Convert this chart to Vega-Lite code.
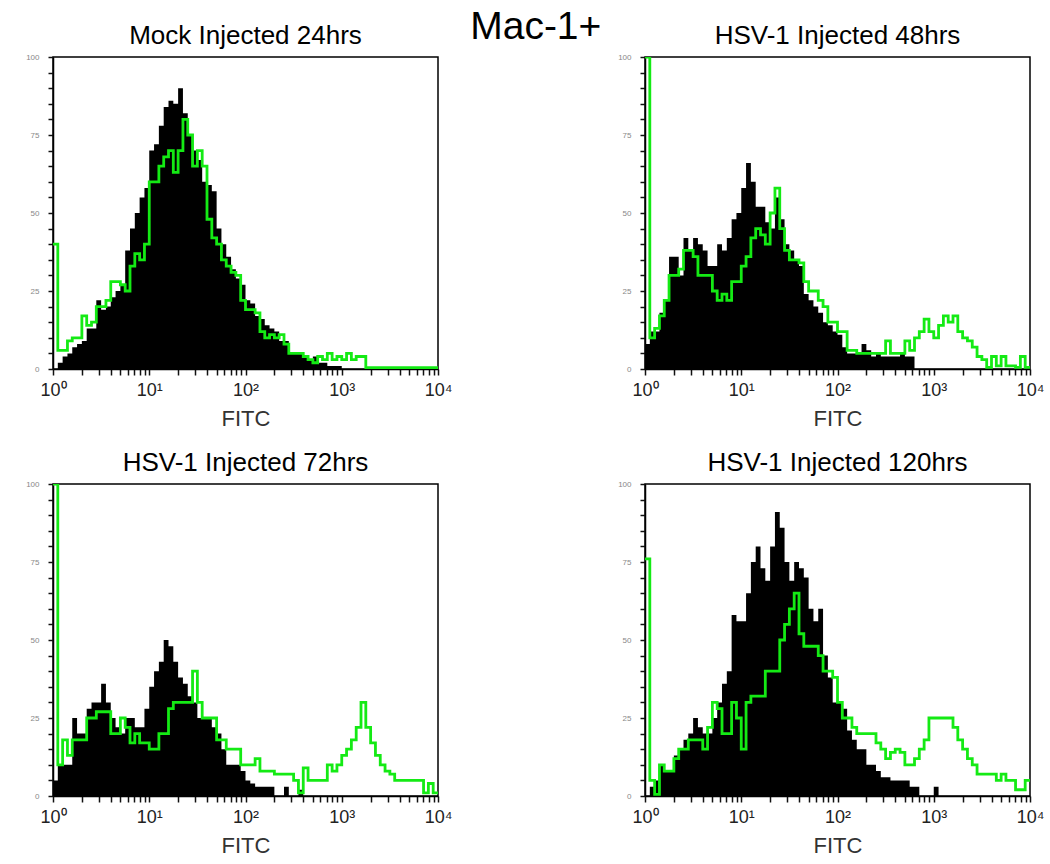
{
"$schema": "https://vega.github.io/schema/vega-lite/v6.json",
"autosize": {"type": "pad"},
"padding": {"left": 24, "top": 8, "right": 10, "bottom": 10},
"background": "white",
"title": {"text": "Mac-1+", "fontSize": 39, "fontWeight": "normal", "offset": -17, "dy": 39, "dx": 1, "anchor": "middle", "frame": "bounds", "baseline": "alphabetic", "color": "black"},
"config": {
 "font": "Liberation Sans",
 "view": {"stroke": "black", "strokeWidth": 1.5},
 "title": {"fontSize": 26, "fontWeight": "normal", "color": "black"},
 "axis": {"ticks": true, "tickColor": "#111111", "tickWidth": 1.5, "domainColor": "#000000", "domainWidth": 1.5, "grid": false, "labelOverlap": false, "labelBound": false, "labelFlush": false},
 "axisX": {"tickSize": 6, "titleFontSize": 22, "titleFontWeight": "normal", "titleColor": "#333333", "titlePadding": 9, "labelFontSize": 18, "labelColor": "#222222", "labelPadding": 6},
 "axisY": {"tickSize": 5, "labelFontSize": 8, "labelColor": "#888888", "labelPadding": 9}
},
"datasets": {
 "pcts": [
  {"p": "A", "pct": "0.71%"},
  {"p": "B", "pct": "11.12%"},
  {"p": "C", "pct": "18.70%"},
  {"p": "D", "pct": "16.46%"}
 ],
 "hist": [
{"p":"A","x":1,"b":0,"g":40},{"p":"A","x":1.122,"b":2,"g":6},{"p":"A","x":1.259,"b":4,"g":6},{"p":"A","x":1.413,"b":5,"g":9},{"p":"A","x":1.585,"b":7,"g":10},{"p":"A","x":1.778,"b":8,"g":10},{"p":"A","x":1.995,"b":9,"g":17},{"p":"A","x":2.239,"b":13,"g":14},{"p":"A","x":2.512,"b":13,"g":15},{"p":"A","x":2.818,"b":22,"g":20},
{"p":"A","x":3.162,"b":19,"g":20},{"p":"A","x":3.548,"b":20,"g":22},{"p":"A","x":3.981,"b":23,"g":28},{"p":"A","x":4.467,"b":25,"g":28},{"p":"A","x":5.012,"b":27,"g":27},{"p":"A","x":5.623,"b":38,"g":25},{"p":"A","x":6.31,"b":45,"g":33},{"p":"A","x":7.079,"b":50,"g":37},{"p":"A","x":7.943,"b":55,"g":35},{"p":"A","x":8.913,"b":58,"g":40},
{"p":"A","x":10,"b":70,"g":60},{"p":"A","x":11.22,"b":72,"g":60},{"p":"A","x":12.59,"b":78,"g":65},{"p":"A","x":14.13,"b":84,"g":68},{"p":"A","x":15.85,"b":86,"g":70},{"p":"A","x":17.78,"b":85,"g":63},{"p":"A","x":19.95,"b":90,"g":70},{"p":"A","x":22.39,"b":82,"g":80},{"p":"A","x":25.12,"b":75,"g":75},{"p":"A","x":28.18,"b":70,"g":65},
{"p":"A","x":31.62,"b":67,"g":70},{"p":"A","x":35.48,"b":60,"g":65},{"p":"A","x":39.81,"b":59,"g":48},{"p":"A","x":44.67,"b":57,"g":42},{"p":"A","x":50.12,"b":45,"g":40},{"p":"A","x":56.23,"b":40,"g":35},{"p":"A","x":63.1,"b":36,"g":33},{"p":"A","x":70.79,"b":32,"g":31},{"p":"A","x":79.43,"b":29,"g":30},{"p":"A","x":89.13,"b":27,"g":22},
{"p":"A","x":100,"b":22,"g":19},{"p":"A","x":112.2,"b":21,"g":19},{"p":"A","x":125.9,"b":17,"g":18},{"p":"A","x":141.3,"b":16,"g":12},{"p":"A","x":158.5,"b":14,"g":10},{"p":"A","x":177.8,"b":13,"g":11},{"p":"A","x":199.5,"b":12,"g":10},{"p":"A","x":223.9,"b":9,"g":11},{"p":"A","x":251.2,"b":9,"g":8},{"p":"A","x":281.8,"b":5,"g":5},
{"p":"A","x":316.2,"b":5,"g":5},{"p":"A","x":354.8,"b":5,"g":5},{"p":"A","x":398.1,"b":4,"g":4},{"p":"A","x":446.7,"b":3,"g":3},{"p":"A","x":501.2,"b":4,"g":2},{"p":"A","x":562.3,"b":2,"g":4},{"p":"A","x":631,"b":2,"g":3},{"p":"A","x":707.9,"b":1,"g":5},{"p":"A","x":794.3,"b":1,"g":3},{"p":"A","x":891.3,"b":1,"g":4},
{"p":"A","x":1000,"b":0,"g":3},{"p":"A","x":1122,"b":0,"g":5},{"p":"A","x":1259,"b":0,"g":3},{"p":"A","x":1413,"b":0,"g":4},{"p":"A","x":1585,"b":0,"g":4},{"p":"A","x":1778,"b":0,"g":0.4},{"p":"A","x":1995,"b":0,"g":0.4},{"p":"A","x":2239,"b":0,"g":0.4},{"p":"A","x":2512,"b":0,"g":0.4},{"p":"A","x":2818,"b":0,"g":0.4},
{"p":"A","x":3162,"b":0,"g":0.4},{"p":"A","x":3548,"b":0,"g":0.4},{"p":"A","x":3981,"b":0,"g":0.4},{"p":"A","x":4467,"b":0,"g":0.4},{"p":"A","x":5012,"b":0,"g":0.4},{"p":"A","x":5623,"b":0,"g":0.4},{"p":"A","x":6310,"b":0,"g":0.4},{"p":"A","x":7079,"b":0,"g":0.4},{"p":"A","x":7943,"b":0,"g":0.4},{"p":"A","x":8913,"b":0,"g":0.4},{"p":"A","x":10000,"b":0,"g":0.4},

{"p":"B","x":1,"b":8,"g":100},{"p":"B","x":1.122,"b":12,"g":10},{"p":"B","x":1.259,"b":12,"g":13},{"p":"B","x":1.413,"b":18,"g":17},{"p":"B","x":1.585,"b":22,"g":22},{"p":"B","x":1.778,"b":36,"g":30},{"p":"B","x":1.995,"b":36,"g":30},{"p":"B","x":2.239,"b":30,"g":32},{"p":"B","x":2.512,"b":42,"g":38},{"p":"B","x":2.818,"b":38,"g":38},
{"p":"B","x":3.162,"b":42,"g":36},{"p":"B","x":3.548,"b":40,"g":30},{"p":"B","x":3.981,"b":38,"g":30},{"p":"B","x":4.467,"b":33,"g":30},{"p":"B","x":5.012,"b":33,"g":25},{"p":"B","x":5.623,"b":40,"g":22},{"p":"B","x":6.31,"b":38,"g":24},{"p":"B","x":7.079,"b":42,"g":22},{"p":"B","x":7.943,"b":48,"g":28},{"p":"B","x":8.913,"b":50,"g":28},
{"p":"B","x":10,"b":58,"g":33},{"p":"B","x":11.22,"b":66,"g":36},{"p":"B","x":12.59,"b":60,"g":42},{"p":"B","x":14.13,"b":52,"g":45},{"p":"B","x":15.85,"b":52,"g":43},{"p":"B","x":17.78,"b":47,"g":40},{"p":"B","x":19.95,"b":45,"g":50},{"p":"B","x":22.39,"b":55,"g":58},{"p":"B","x":25.12,"b":48,"g":45},{"p":"B","x":28.18,"b":40,"g":38},
{"p":"B","x":31.62,"b":38,"g":35},{"p":"B","x":35.48,"b":35,"g":35},{"p":"B","x":39.81,"b":33,"g":34},{"p":"B","x":44.67,"b":24,"g":28},{"p":"B","x":50.12,"b":22,"g":25},{"p":"B","x":56.23,"b":20,"g":25},{"p":"B","x":63.1,"b":18,"g":22},{"p":"B","x":70.79,"b":15,"g":20},{"p":"B","x":79.43,"b":14,"g":15},{"p":"B","x":89.13,"b":12,"g":15},
{"p":"B","x":100,"b":11,"g":12},{"p":"B","x":112.2,"b":7,"g":12},{"p":"B","x":125.9,"b":5,"g":6},{"p":"B","x":141.3,"b":5,"g":6},{"p":"B","x":158.5,"b":5,"g":5},{"p":"B","x":177.8,"b":8,"g":5},{"p":"B","x":199.5,"b":6,"g":5},{"p":"B","x":223.9,"b":4,"g":5},{"p":"B","x":251.2,"b":5,"g":5},{"p":"B","x":281.8,"b":4,"g":5},
{"p":"B","x":316.2,"b":4,"g":9},{"p":"B","x":354.8,"b":4,"g":5},{"p":"B","x":398.1,"b":4,"g":5},{"p":"B","x":446.7,"b":5,"g":5},{"p":"B","x":501.2,"b":4,"g":9},{"p":"B","x":562.3,"b":4,"g":6},{"p":"B","x":631,"b":0,"g":10},{"p":"B","x":707.9,"b":0,"g":12},{"p":"B","x":794.3,"b":0,"g":16},{"p":"B","x":891.3,"b":0,"g":12},
{"p":"B","x":1000,"b":0,"g":10},{"p":"B","x":1122,"b":0,"g":14},{"p":"B","x":1259,"b":0,"g":17},{"p":"B","x":1413,"b":0,"g":15},{"p":"B","x":1585,"b":0,"g":17},{"p":"B","x":1778,"b":0,"g":12},{"p":"B","x":1995,"b":0,"g":10},{"p":"B","x":2239,"b":0,"g":9},{"p":"B","x":2512,"b":0,"g":7},{"p":"B","x":2818,"b":0,"g":4},
{"p":"B","x":3162,"b":0,"g":3},{"p":"B","x":3548,"b":0,"g":0.5},{"p":"B","x":3981,"b":0,"g":4},{"p":"B","x":4467,"b":0,"g":1},{"p":"B","x":5012,"b":0,"g":4},{"p":"B","x":5623,"b":0,"g":1},{"p":"B","x":6310,"b":0,"g":1},{"p":"B","x":7079,"b":0,"g":0.5},{"p":"B","x":7943,"b":0,"g":4},{"p":"B","x":8913,"b":0,"g":0.5},{"p":"B","x":10000,"b":0,"g":0.5},

{"p":"C","x":1,"b":5,"g":100},{"p":"C","x":1.122,"b":10,"g":10},{"p":"C","x":1.259,"b":10,"g":18},{"p":"C","x":1.413,"b":10,"g":13},{"p":"C","x":1.585,"b":25,"g":18},{"p":"C","x":1.778,"b":20,"g":18},{"p":"C","x":1.995,"b":20,"g":18},{"p":"C","x":2.239,"b":28,"g":25},{"p":"C","x":2.512,"b":30,"g":25},{"p":"C","x":2.818,"b":30,"g":27},
{"p":"C","x":3.162,"b":36,"g":27},{"p":"C","x":3.548,"b":30,"g":27},{"p":"C","x":3.981,"b":25,"g":20},{"p":"C","x":4.467,"b":22,"g":20},{"p":"C","x":5.012,"b":20,"g":25},{"p":"C","x":5.623,"b":25,"g":22},{"p":"C","x":6.31,"b":25,"g":17},{"p":"C","x":7.079,"b":22,"g":20},{"p":"C","x":7.943,"b":22,"g":17},{"p":"C","x":8.913,"b":28,"g":17},
{"p":"C","x":10,"b":35,"g":15},{"p":"C","x":11.22,"b":40,"g":15},{"p":"C","x":12.59,"b":43,"g":20},{"p":"C","x":14.13,"b":50,"g":20},{"p":"C","x":15.85,"b":48,"g":28},{"p":"C","x":17.78,"b":43,"g":30},{"p":"C","x":19.95,"b":38,"g":30},{"p":"C","x":22.39,"b":36,"g":30},{"p":"C","x":25.12,"b":32,"g":30},{"p":"C","x":28.18,"b":30,"g":40},
{"p":"C","x":31.62,"b":25,"g":30},{"p":"C","x":35.48,"b":25,"g":25},{"p":"C","x":39.81,"b":25,"g":25},{"p":"C","x":44.67,"b":22,"g":25},{"p":"C","x":50.12,"b":20,"g":18},{"p":"C","x":56.23,"b":15,"g":18},{"p":"C","x":63.1,"b":10,"g":15},{"p":"C","x":70.79,"b":10,"g":15},{"p":"C","x":79.43,"b":10,"g":15},{"p":"C","x":89.13,"b":8,"g":10},
{"p":"C","x":100,"b":5,"g":10},{"p":"C","x":112.2,"b":4,"g":10},{"p":"C","x":125.9,"b":3,"g":12},{"p":"C","x":141.3,"b":3,"g":8},{"p":"C","x":158.5,"b":3,"g":8},{"p":"C","x":177.8,"b":3,"g":8},{"p":"C","x":199.5,"b":0,"g":7},{"p":"C","x":223.9,"b":0,"g":7},{"p":"C","x":251.2,"b":3,"g":7},{"p":"C","x":281.8,"b":0,"g":7},
{"p":"C","x":316.2,"b":0,"g":5},{"p":"C","x":354.8,"b":2,"g":1},{"p":"C","x":398.1,"b":0,"g":9},{"p":"C","x":446.7,"b":0,"g":5},{"p":"C","x":501.2,"b":0,"g":5},{"p":"C","x":562.3,"b":0,"g":5},{"p":"C","x":631,"b":0,"g":5},{"p":"C","x":707.9,"b":0,"g":10},{"p":"C","x":794.3,"b":0,"g":8},{"p":"C","x":891.3,"b":0,"g":10},
{"p":"C","x":1000,"b":0,"g":13},{"p":"C","x":1122,"b":0,"g":15},{"p":"C","x":1259,"b":0,"g":18},{"p":"C","x":1413,"b":0,"g":22},{"p":"C","x":1585,"b":0,"g":30},{"p":"C","x":1778,"b":0,"g":22},{"p":"C","x":1995,"b":0,"g":17},{"p":"C","x":2239,"b":0,"g":13},{"p":"C","x":2512,"b":0,"g":10},{"p":"C","x":2818,"b":0,"g":8},
{"p":"C","x":3162,"b":0,"g":7},{"p":"C","x":3548,"b":0,"g":5},{"p":"C","x":3981,"b":0,"g":5},{"p":"C","x":4467,"b":0,"g":5},{"p":"C","x":5012,"b":0,"g":5},{"p":"C","x":5623,"b":0,"g":5},{"p":"C","x":6310,"b":0,"g":5},{"p":"C","x":7079,"b":0,"g":1},{"p":"C","x":7943,"b":0,"g":4},{"p":"C","x":8913,"b":0,"g":1},{"p":"C","x":10000,"b":0,"g":1},

{"p":"D","x":1,"b":0,"g":76},{"p":"D","x":1.122,"b":3,"g":5},{"p":"D","x":1.259,"b":5,"g":0.5},{"p":"D","x":1.413,"b":10,"g":10},{"p":"D","x":1.585,"b":8,"g":8},{"p":"D","x":1.778,"b":8,"g":8},{"p":"D","x":1.995,"b":13,"g":12},{"p":"D","x":2.239,"b":15,"g":15},{"p":"D","x":2.512,"b":18,"g":15},{"p":"D","x":2.818,"b":20,"g":18},
{"p":"D","x":3.162,"b":25,"g":18},{"p":"D","x":3.548,"b":22,"g":18},{"p":"D","x":3.981,"b":20,"g":15},{"p":"D","x":4.467,"b":20,"g":22},{"p":"D","x":5.012,"b":25,"g":30},{"p":"D","x":5.623,"b":30,"g":28},{"p":"D","x":6.31,"b":36,"g":20},{"p":"D","x":7.079,"b":40,"g":20},{"p":"D","x":7.943,"b":58,"g":30},{"p":"D","x":8.913,"b":56,"g":25},
{"p":"D","x":10,"b":56,"g":15},{"p":"D","x":11.22,"b":65,"g":30},{"p":"D","x":12.59,"b":75,"g":32},{"p":"D","x":14.13,"b":80,"g":32},{"p":"D","x":15.85,"b":73,"g":32},{"p":"D","x":17.78,"b":69,"g":40},{"p":"D","x":19.95,"b":80,"g":40},{"p":"D","x":22.39,"b":91,"g":40},{"p":"D","x":25.12,"b":86,"g":50},{"p":"D","x":28.18,"b":75,"g":55},
{"p":"D","x":31.62,"b":69,"g":60},{"p":"D","x":35.48,"b":75,"g":65},{"p":"D","x":39.81,"b":73,"g":52},{"p":"D","x":44.67,"b":70,"g":48},{"p":"D","x":50.12,"b":60,"g":48},{"p":"D","x":56.23,"b":56,"g":48},{"p":"D","x":63.1,"b":60,"g":45},{"p":"D","x":70.79,"b":45,"g":40},{"p":"D","x":79.43,"b":38,"g":40},{"p":"D","x":89.13,"b":30,"g":38},
{"p":"D","x":100,"b":30,"g":30},{"p":"D","x":112.2,"b":28,"g":25},{"p":"D","x":125.9,"b":21,"g":25},{"p":"D","x":141.3,"b":18,"g":22},{"p":"D","x":158.5,"b":15,"g":20},{"p":"D","x":177.8,"b":15,"g":20},{"p":"D","x":199.5,"b":10,"g":20},{"p":"D","x":223.9,"b":10,"g":20},{"p":"D","x":251.2,"b":8,"g":17},{"p":"D","x":281.8,"b":6,"g":15},
{"p":"D","x":316.2,"b":6,"g":12},{"p":"D","x":354.8,"b":5,"g":14},{"p":"D","x":398.1,"b":5,"g":15},{"p":"D","x":446.7,"b":5,"g":14},{"p":"D","x":501.2,"b":5,"g":10},{"p":"D","x":562.3,"b":3,"g":10},{"p":"D","x":631,"b":3,"g":12},{"p":"D","x":707.9,"b":0,"g":15},{"p":"D","x":794.3,"b":0,"g":18},{"p":"D","x":891.3,"b":0,"g":25},
{"p":"D","x":1000,"b":3,"g":25},{"p":"D","x":1122,"b":0,"g":25},{"p":"D","x":1259,"b":0,"g":25},{"p":"D","x":1413,"b":0,"g":25},{"p":"D","x":1585,"b":0,"g":22},{"p":"D","x":1778,"b":0,"g":18},{"p":"D","x":1995,"b":0,"g":15},{"p":"D","x":2239,"b":0,"g":12},{"p":"D","x":2512,"b":0,"g":10},{"p":"D","x":2818,"b":0,"g":7},
{"p":"D","x":3162,"b":0,"g":7},{"p":"D","x":3548,"b":0,"g":7},{"p":"D","x":3981,"b":0,"g":7},{"p":"D","x":4467,"b":0,"g":5},{"p":"D","x":5012,"b":0,"g":7},{"p":"D","x":5623,"b":0,"g":5},{"p":"D","x":6310,"b":0,"g":5},{"p":"D","x":7079,"b":0,"g":2},{"p":"D","x":7943,"b":0,"g":2},{"p":"D","x":8913,"b":0,"g":5},{"p":"D","x":10000,"b":0,"g":5}
 ]
},
"columns": 2,
"spacing": {"row": 115, "column": 207},
"bounds": "flush",
"concat": [
  {"title": {"text": "Mock Injected 24hrs", "offset": 9, "dy": 26, "baseline": "alphabetic"}, "width": 385, "height": 312,
   "encoding": {
     "x": {"field": "x", "type": "quantitative", "scale": {"type": "log", "domain": [1, 10000]}, "title": "FITC", "axis": {"values": [1,2,3,4,5,6,7,8,9,10,20,30,40,50,60,70,80,90,100,200,300,400,500,600,700,800,900,1000,2000,3000,4000,5000,6000,7000,8000,9000,10000], "labelExpr": "datum.value == 1 ? '10⁰' : datum.value == 10 ? '10¹' : datum.value == 100 ? '10²' : datum.value == 1000 ? '10³' : datum.value == 10000 ? '10⁴' : ''"}},
     "y": {"type": "quantitative", "scale": {"domain": [0, 100]}, "title": null, "axis": {"values": [0,5,10,15,20,25,30,35,40,45,50,55,60,65,70,75,80,85,90,95,100], "labelExpr": "datum.value % 25 == 0 ? datum.label : ''"}}
   },
   "layer": [
   {"data": {"name": "hist"}, "transform": [{"filter": "datum.p == 'A'"}], "mark": {"type": "area", "interpolate": "step-after", "color": "black", "clip": true}, "encoding": {"y": {"field": "b"}}},
   {"data": {"name": "hist"}, "transform": [{"filter": "datum.p == 'A'"}], "mark": {"type": "line", "interpolate": "step-after", "color": "#14ea14", "strokeWidth": 2.8, "clip": true}, "encoding": {"y": {"field": "g"}}},
   {"data": {"name": "pcts"}, "transform": [{"filter": "datum.p == 'A'"}], "mark": {"type": "text", "align": "right", "baseline": "alphabetic", "fontSize": 28, "color": "black"},
    "encoding": {"x": {"datum": 5129, "type": "quantitative"}, "y": {"datum": 84.5, "type": "quantitative"}, "text": {"field": "pct"}}}
  ]},
  {"title": {"text": "HSV-1 Injected 48hrs", "offset": 9, "dy": 26, "baseline": "alphabetic"}, "width": 385, "height": 312,
   "encoding": {
     "x": {"field": "x", "type": "quantitative", "scale": {"type": "log", "domain": [1, 10000]}, "title": "FITC", "axis": {"values": [1,2,3,4,5,6,7,8,9,10,20,30,40,50,60,70,80,90,100,200,300,400,500,600,700,800,900,1000,2000,3000,4000,5000,6000,7000,8000,9000,10000], "labelExpr": "datum.value == 1 ? '10⁰' : datum.value == 10 ? '10¹' : datum.value == 100 ? '10²' : datum.value == 1000 ? '10³' : datum.value == 10000 ? '10⁴' : ''"}},
     "y": {"type": "quantitative", "scale": {"domain": [0, 100]}, "title": null, "axis": {"values": [0,5,10,15,20,25,30,35,40,45,50,55,60,65,70,75,80,85,90,95,100], "labelExpr": "datum.value % 25 == 0 ? datum.label : ''"}}
   },
   "layer": [
   {"data": {"name": "hist"}, "transform": [{"filter": "datum.p == 'B'"}], "mark": {"type": "area", "interpolate": "step-after", "color": "black", "clip": true}, "encoding": {"y": {"field": "b"}}},
   {"data": {"name": "hist"}, "transform": [{"filter": "datum.p == 'B'"}], "mark": {"type": "line", "interpolate": "step-after", "color": "#14ea14", "strokeWidth": 2.8, "clip": true}, "encoding": {"y": {"field": "g"}}},
   {"data": {"name": "pcts"}, "transform": [{"filter": "datum.p == 'B'"}], "mark": {"type": "text", "align": "right", "baseline": "alphabetic", "fontSize": 28, "color": "black"},
    "encoding": {"x": {"datum": 5248, "type": "quantitative"}, "y": {"datum": 85, "type": "quantitative"}, "text": {"field": "pct"}}}
  ]},
  {"title": {"text": "HSV-1 Injected 72hrs", "offset": 9, "dy": 26, "baseline": "alphabetic"}, "width": 385, "height": 312,
   "encoding": {
     "x": {"field": "x", "type": "quantitative", "scale": {"type": "log", "domain": [1, 10000]}, "title": "FITC", "axis": {"values": [1,2,3,4,5,6,7,8,9,10,20,30,40,50,60,70,80,90,100,200,300,400,500,600,700,800,900,1000,2000,3000,4000,5000,6000,7000,8000,9000,10000], "labelExpr": "datum.value == 1 ? '10⁰' : datum.value == 10 ? '10¹' : datum.value == 100 ? '10²' : datum.value == 1000 ? '10³' : datum.value == 10000 ? '10⁴' : ''"}},
     "y": {"type": "quantitative", "scale": {"domain": [0, 100]}, "title": null, "axis": {"values": [0,5,10,15,20,25,30,35,40,45,50,55,60,65,70,75,80,85,90,95,100], "labelExpr": "datum.value % 25 == 0 ? datum.label : ''"}}
   },
   "layer": [
   {"data": {"name": "hist"}, "transform": [{"filter": "datum.p == 'C'"}], "mark": {"type": "area", "interpolate": "step-after", "color": "black", "clip": true}, "encoding": {"y": {"field": "b"}}},
   {"data": {"name": "hist"}, "transform": [{"filter": "datum.p == 'C'"}], "mark": {"type": "line", "interpolate": "step-after", "color": "#14ea14", "strokeWidth": 2.8, "clip": true}, "encoding": {"y": {"field": "g"}}},
   {"data": {"name": "pcts"}, "transform": [{"filter": "datum.p == 'C'"}], "mark": {"type": "text", "align": "right", "baseline": "alphabetic", "fontSize": 28, "color": "black"},
    "encoding": {"x": {"datum": 8050, "type": "quantitative"}, "y": {"datum": 84.5, "type": "quantitative"}, "text": {"field": "pct"}}}
  ]},
  {"title": {"text": "HSV-1 Injected 120hrs", "offset": 9, "dy": 26, "baseline": "alphabetic"}, "width": 385, "height": 312,
   "encoding": {
     "x": {"field": "x", "type": "quantitative", "scale": {"type": "log", "domain": [1, 10000]}, "title": "FITC", "axis": {"values": [1,2,3,4,5,6,7,8,9,10,20,30,40,50,60,70,80,90,100,200,300,400,500,600,700,800,900,1000,2000,3000,4000,5000,6000,7000,8000,9000,10000], "labelExpr": "datum.value == 1 ? '10⁰' : datum.value == 10 ? '10¹' : datum.value == 100 ? '10²' : datum.value == 1000 ? '10³' : datum.value == 10000 ? '10⁴' : ''"}},
     "y": {"type": "quantitative", "scale": {"domain": [0, 100]}, "title": null, "axis": {"values": [0,5,10,15,20,25,30,35,40,45,50,55,60,65,70,75,80,85,90,95,100], "labelExpr": "datum.value % 25 == 0 ? datum.label : ''"}}
   },
   "layer": [
   {"data": {"name": "hist"}, "transform": [{"filter": "datum.p == 'D'"}], "mark": {"type": "area", "interpolate": "step-after", "color": "black", "clip": true}, "encoding": {"y": {"field": "b"}}},
   {"data": {"name": "hist"}, "transform": [{"filter": "datum.p == 'D'"}], "mark": {"type": "line", "interpolate": "step-after", "color": "#14ea14", "strokeWidth": 2.8, "clip": true}, "encoding": {"y": {"field": "g"}}},
   {"data": {"name": "pcts"}, "transform": [{"filter": "datum.p == 'D'"}], "mark": {"type": "text", "align": "right", "baseline": "alphabetic", "fontSize": 28, "color": "black"},
    "encoding": {"x": {"datum": 5248, "type": "quantitative"}, "y": {"datum": 84.5, "type": "quantitative"}, "text": {"field": "pct"}}}
  ]}
]
}
